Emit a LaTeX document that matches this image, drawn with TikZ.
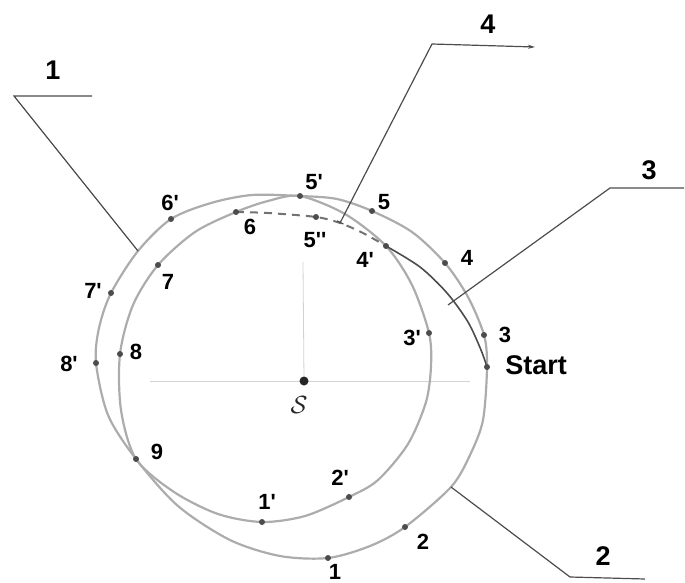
\documentclass[tikz,border=0pt]{standalone}
\usepackage{fontspec}
\setmainfont{Liberation Sans}
\usetikzlibrary{arrows.meta}
\newcommand{\plica}{\textquotesingle}

\begin{document}
\begin{tikzpicture}[x=1pt,y=-1pt,
        orbita/.style={gray!65, line width=2.2pt},
        escura/.style={black!70, line width=1.6pt},
        chamada/.style={black!70, line width=1.2pt},
        rot/.style={font=\fontsize{22}{25}\selectfont\bfseries},
        num/.style={font=\fontsize{27}{30}\selectfont\bfseries}]
        \useasboundingbox (0,0) rectangle (685,583);

        % Pontos
        \coordinate (start) at (487,367);
        \coordinate (p1) at (328,558);
        \coordinate (p2) at (405,527);
        \coordinate (p3) at (484,335);
        \coordinate (p4) at (445,263);
        \coordinate (p5) at (372,211);
        \coordinate (p6) at (236,212);
        \coordinate (p7) at (158,265);
        \coordinate (p8) at (120,354);
        \coordinate (p9) at (136,459);
        \coordinate (q1) at (262,522);
        \coordinate (q2) at (349,497);
        \coordinate (q3) at (429,333);
        \coordinate (q4) at (386,246);
        \coordinate (q5) at (300,196);
        \coordinate (q6) at (171,219);
        \coordinate (q7) at (111,293);
        \coordinate (q8) at (96,363);
        \coordinate (r5) at (316,217);
        \coordinate (c) at (304,381);

        % Pontas das chamadas
        \coordinate (a1) at (138,251);
        \coordinate (a2) at (451,487);
        \coordinate (a3) at (448,305);
        \coordinate (a4) at (340,223);

        % Eixos
        \draw[gray!35, line width=0.8pt] (150,381) -- (470,381);
        \draw[gray!35, line width=0.8pt] (303,262) -- (c);

        % Órbitas
        \draw[orbita] plot[smooth cycle] coordinates {(start) (p3) (468,297) (p4)
            (412,232) (p5) (337,199) (q5) (252,195) (211,203) (q6) (a1) (q7)
            (99,328) (q8) (108,415) (p9) (178,506) (230,540) (280,556) (p1)
            (370,546) (p2) (a2) (470,455) (483,420)};
        \draw[orbita] plot[smooth cycle] coordinates {(q5) (345,214) (q4) (412,285)
            (q3) (431,366) (426,402) (408,444) (378,480) (q2) (305,516) (q1)
            (218,514) (174,492) (p9) (121,410) (p8) (133,305) (p7) (195,232)
            (p6) (268,201)};

        % Trajetória
        \draw[black!55, line width=2pt, dash pattern=on 8pt off 6pt] plot[smooth] coordinates {(p6) (268,213) (r5) (a4) (363,233) (q4)};
        \draw[escura] plot[smooth] coordinates {(q4) (420,267) (447,293) (468,322) (481,350) (start)};

        % Marcas
        \foreach \p in {start,p1,p2,p3,p4,p5,p6,p7,p8,p9,q1,q2,q3,q4,q5,q6,q7,q8,r5}
            \fill[black!70] (\p) circle (3pt);
        \fill[black!85] (c) circle (4.5pt);
        \node[font=\fontsize{36}{38}\selectfont, black!85] (sol) at (299,405) {$\mathcal{S}$};

        % Rótulos
        \node[rot] (t1) at (335,572) {1};
        \node[rot] (t2) at (423,542) {2};
        \node[rot] (t3) at (505,335) {3};
        \node[rot] (t4) at (467,258) {4};
        \node[rot] (t5) at (384,202) {5};
        \node[rot] (t6) at (250,227) {6};
        \node[rot] (t7) at (168,282) {7};
        \node[rot] (t8) at (136,352) {8};
        \node[rot] (t9) at (157,452) {9};
        \node[rot] (s1) at (267,502) {1\plica};
        \node[rot] (s2) at (340,478) {2\plica};
        \node[rot] (s3) at (412,338) {3\plica};
        \node[rot] (s4) at (365,260) {4\plica};
        \node[rot] (s5) at (314,182) {5\plica};
        \node[rot] (s6) at (170,203) {6\plica};
        \node[rot] (s7) at (93,291) {7\plica};
        \node[rot] (s8) at (69,364) {8\plica};
        \node[rot] (d5) at (315,240) {5\plica\plica};
        \node[num] (tst) at (536,365) {Start};

        % Chamadas
        \node[num] (n1) at (53,70) {1};
        \node[num] (n2) at (603,556) {2};
        \node[num] (n3) at (649,170) {3};
        \node[num] (n4) at (488,24) {4};
        \coordinate (b1) at (14,96);
        \coordinate (e1) at (92,96);
        \coordinate (b2) at (570,577);
        \coordinate (e2) at (645,579);
        \coordinate (b3) at (610,188);
        \coordinate (e3) at (684,188);
        \coordinate (b4) at (432,44);
        \coordinate (e4) at (535,47);
        \draw[chamada] (e1) -- (b1) -- (a1);
        \draw[chamada] (a2) -- (b2) -- (e2);
        \draw[chamada] (a3) -- (b3) -- (e3);
        \draw[chamada, {Bar[width=7pt]}-{Stealth[length=7pt,width=4pt]}] (a4) -- (b4) -- (e4);
    \end{tikzpicture}
\end{document}
